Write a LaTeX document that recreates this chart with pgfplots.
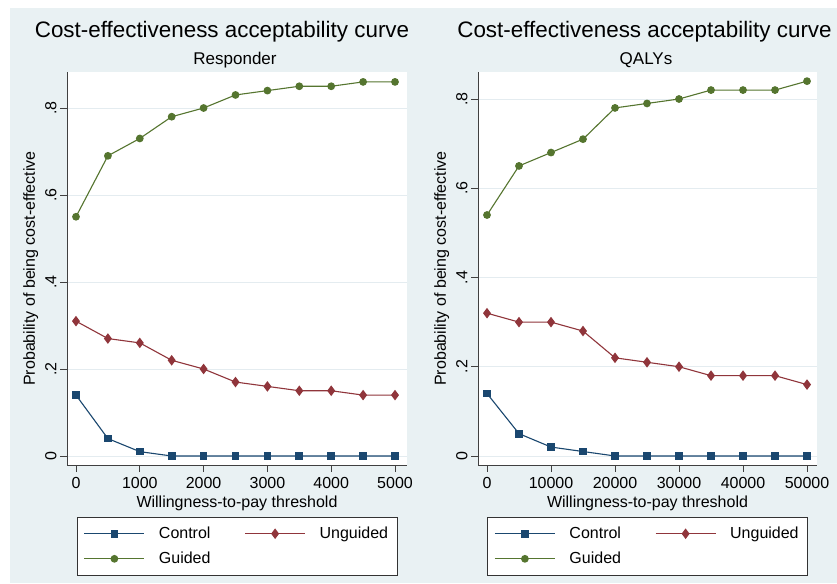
\documentclass[border=0pt]{standalone}
\usepackage{pgfplots}
\pgfplotsset{compat=1.18}
\usepackage{fontspec}
\setmainfont{Liberation Sans}
\definecolor{bg}{RGB}{233,241,243}
\definecolor{stnavy}{RGB}{26,71,111}
\definecolor{stmaroon}{RGB}{144,53,59}
\definecolor{stgreen}{RGB}{85,117,47}
\definecolor{gridc}{RGB}{228,236,240}
\newcommand{\legfont}{\fontsize{16}{19}\selectfont}
\pgfplotsset{
 cea/.style={
  scale only axis, anchor=south west,
  height=393pt,
  axis background/.style={fill=white},
  axis x line*=bottom, axis y line*=left,
  axis line style={black!75, line width=0.6pt, -},
  tick align=outside, major tick length=7pt,
  every tick/.style={black!75, line width=0.6pt},
  ymajorgrids, grid style={gridc, line width=0.8pt},
  ytick={0,0.2,0.4,0.6,0.8}, yticklabels={0,.2,.4,.6,.8},
  yticklabel style={rotate=90, anchor=south, font=\fontsize{16}{19}\selectfont},
  xticklabel style={font=\fontsize{16}{19}\selectfont, yshift=-2pt},
  /pgf/number format/1000 sep={}, /pgf/number format/assume math mode=true,
  scaled x ticks=false,
  xlabel={Willingness-to-pay threshold}, ylabel={Probability of being cost-effective},
  label style={font=\fontsize{16}{19}\selectfont},
  every axis plot/.append style={line width=1.1pt},
  legend columns=2, legend cell align=left,
  legend image code/.code={\draw[mark repeat=2,mark phase=2,##1] plot coordinates {(0pt,0pt) (30pt,0pt) (60pt,0pt)};\path (72pt,0pt);},
  legend style={at={(0.5,-0.132)}, anchor=north, draw=black!80, line width=0.6pt, fill=white,
    font=\legfont, inner xsep=7pt, inner ysep=8pt, row sep=8pt,
    /tikz/every even column/.append style={column sep=32pt}},
 },
 ctrl/.style={stnavy, mark=square*, mark size=3.3pt, mark options={solid}},
 ungd/.style={stmaroon, mark=diamond*, mark size=4.4pt, mark options={solid}},
 gdd/.style={stgreen, mark=*, mark size=3.3pt, mark options={solid}},
}
\begin{document}
\begin{tikzpicture}[x=1pt,y=1pt]
\useasboundingbox (0,0) rectangle (837,583);
\fill[bg] (10,0) rectangle (837,575);
\node[font=\fontsize{22.4}{26}\selectfont] at (222,551) {Cost-effectiveness acceptability curve};
\node[font=\fontsize{22.4}{26}\selectfont] at (644.5,551) {Cost-effectiveness acceptability curve};
\node[font=\fontsize{17}{20}\selectfont] at (235,523) {Responder};
\node[font=\fontsize{17}{20}\selectfont] at (646,523) {QALYs};

\begin{axis}[cea, at={(67pt,118pt)}, width=340pt,
  xmin=-141, xmax=5188, ymin=-0.0207, ymax=0.8828,
  xtick={0,1000,...,5000}]
\addplot[ctrl] coordinates {(0,0.14) (500,0.04) (1000,0.01) (1500,0) (2000,0) (2500,0) (3000,0) (3500,0) (4000,0) (4500,0) (5000,0)};
\addplot[ungd] coordinates {(0,0.31) (500,0.27) (1000,0.26) (1500,0.22) (2000,0.20) (2500,0.17) (3000,0.16) (3500,0.15) (4000,0.15) (4500,0.14) (5000,0.14)};
\addplot[gdd] coordinates {(0,0.55) (500,0.69) (1000,0.73) (1500,0.78) (2000,0.80) (2500,0.83) (3000,0.84) (3500,0.85) (4000,0.85) (4500,0.86) (5000,0.86)};
\legend{Control,Unguided\hspace{9pt},Guided}
\end{axis}

\begin{axis}[cea, at={(478pt,118pt)}, width=339pt,
  xmin=-1406, xmax=51562, ymin=-0.0202, ymax=0.8605,
  xtick={0,10000,...,50000}]
\addplot[ctrl] coordinates {(0,0.14) (5000,0.05) (10000,0.02) (15000,0.01) (20000,0) (25000,0) (30000,0) (35000,0) (40000,0) (45000,0) (50000,0)};
\addplot[ungd] coordinates {(0,0.32) (5000,0.30) (10000,0.30) (15000,0.28) (20000,0.22) (25000,0.21) (30000,0.20) (35000,0.18) (40000,0.18) (45000,0.18) (50000,0.16)};
\addplot[gdd] coordinates {(0,0.54) (5000,0.65) (10000,0.68) (15000,0.71) (20000,0.78) (25000,0.79) (30000,0.80) (35000,0.82) (40000,0.82) (45000,0.82) (50000,0.84)};
\legend{Control,Unguided\hspace{9pt},Guided}
\end{axis}
\end{tikzpicture}
\end{document}
